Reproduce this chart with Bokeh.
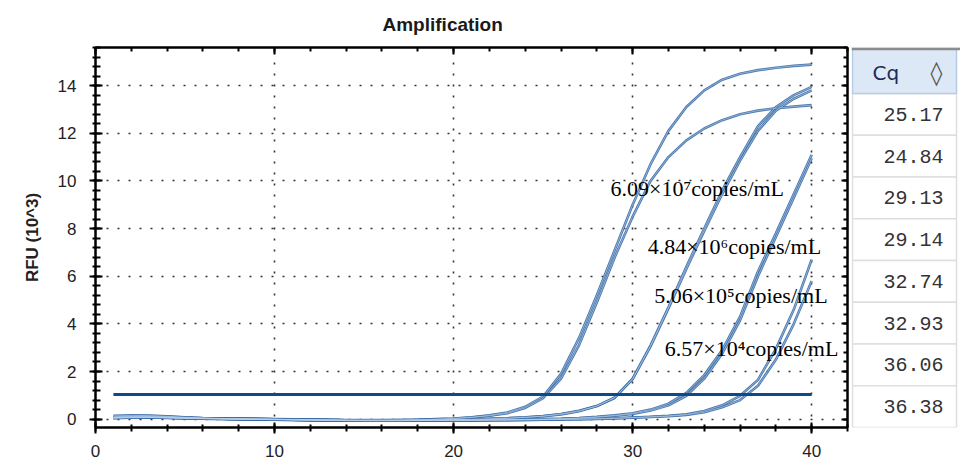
from bokeh.plotting import figure
from bokeh.models import LinearAxis, SingleIntervalTicker, Range1d, CustomJSTickFormatter
from bokeh.layouts import row
from bokeh.embed import file_html
from bokeh.resources import INLINE
from bokeh.core.properties import value

# ---------------- data ----------------
cycles = list(range(1, 41))

rfu_a1 = [0.14, 0.16, 0.15, 0.12, 0.08, 0.05, 0.03, 0.02, 0.01, 0.0,
          -0.01, -0.02, -0.03, -0.04, -0.04, -0.04, -0.04, -0.03, 0.0, 0.03,
          0.08, 0.16, 0.28, 0.52, 0.95, 1.9, 3.4, 5.2, 7.1, 9.0,
          10.7, 12.1, 13.1, 13.8, 14.25, 14.5, 14.65, 14.75, 14.83, 14.88]
rfu_a2 = [0.10, 0.13, 0.13, 0.11, 0.07, 0.04, 0.02, 0.01, 0.0, -0.01,
          -0.02, -0.03, -0.04, -0.05, -0.05, -0.05, -0.04, -0.03, -0.01, 0.02,
          0.07, 0.14, 0.25, 0.47, 0.88, 1.7, 3.1, 4.9, 6.8, 8.5,
          10.0, 11.0, 11.7, 12.2, 12.55, 12.8, 12.95, 13.05, 13.12, 13.18]
rfu_b1 = [0.08, 0.10, 0.10, 0.08, 0.06, 0.04, 0.02, 0.01, 0.0, -0.01,
          -0.02, -0.03, -0.04, -0.05, -0.05, -0.05, -0.05, -0.04, -0.03, -0.02,
          -0.01, 0.01, 0.04, 0.08, 0.13, 0.22, 0.35, 0.55, 0.9, 1.7,
          3.1, 4.7, 6.4, 8.0, 9.6, 11.0, 12.3, 13.1, 13.6, 13.95]
rfu_b2 = [0.07, 0.09, 0.09, 0.07, 0.05, 0.03, 0.02, 0.01, 0.0, -0.01,
          -0.02, -0.03, -0.04, -0.05, -0.05, -0.05, -0.05, -0.04, -0.03, -0.02,
          -0.01, 0.01, 0.03, 0.07, 0.12, 0.2, 0.33, 0.55, 0.9, 1.68,
          3.05, 4.65, 6.3, 7.9, 9.45, 10.85, 12.1, 12.95, 13.45, 13.8]
rfu_c1 = [0.06, 0.09, 0.09, 0.07, 0.05, 0.03, 0.02, 0.01, 0.0, -0.01,
          -0.02, -0.03, -0.04, -0.05, -0.06, -0.06, -0.06, -0.05, -0.05, -0.04,
          -0.04, -0.03, -0.02, -0.01, 0.0, 0.02, 0.05, 0.1, 0.16, 0.25,
          0.4, 0.65, 1.1, 1.85, 2.9, 4.3, 6.2, 7.8, 9.45, 11.1]
rfu_c2 = [0.05, 0.08, 0.08, 0.06, 0.04, 0.03, 0.02, 0.01, 0.0, -0.01,
          -0.02, -0.03, -0.04, -0.05, -0.06, -0.06, -0.06, -0.05, -0.05, -0.04,
          -0.04, -0.03, -0.02, -0.01, 0.0, 0.01, 0.04, 0.08, 0.14, 0.22,
          0.36, 0.58, 0.98, 1.7, 2.75, 4.15, 6.0, 7.65, 9.3, 10.95]
rfu_d1 = [0.05, 0.07, 0.08, 0.06, 0.04, 0.02, 0.01, 0.0, -0.01, -0.02,
          -0.03, -0.04, -0.05, -0.06, -0.06, -0.06, -0.06, -0.06, -0.05, -0.05,
          -0.05, -0.04, -0.04, -0.03, -0.02, -0.01, 0.0, 0.02, 0.04, 0.07,
          0.1, 0.14, 0.2, 0.34, 0.58, 0.98, 1.65, 2.95, 4.6, 6.7]
rfu_d2 = [0.04, 0.06, 0.07, 0.05, 0.03, 0.02, 0.01, 0.0, -0.01, -0.02,
          -0.03, -0.04, -0.05, -0.06, -0.06, -0.06, -0.06, -0.06, -0.05, -0.05,
          -0.05, -0.04, -0.04, -0.03, -0.02, -0.01, 0.0, 0.01, 0.03, 0.06,
          0.09, 0.12, 0.18, 0.29, 0.5, 0.8, 1.4, 2.5, 4.0, 5.8]
curves = [rfu_a1, rfu_a2, rfu_b1, rfu_b2, rfu_c1, rfu_c2, rfu_d1, rfu_d2]

threshold = 1.04

cq_values = ["25.17", "24.84", "29.13", "29.14", "32.74", "32.93", "36.06", "36.38"]

label_texts = ["6.09\u00d710\u2077copies/mL", "4.84\u00d710\u2076copies/mL",
               "5.06\u00d710\u2075copies/mL", "6.57\u00d710\u2074copies/mL"]

title_text = "Amplification"
y_label = "RFU (10^3)"

# ---------------- main chart ----------------
p = figure(width=851, height=468, x_range=Range1d(0, 42), y_range=Range1d(-0.35, 15.6),
           output_backend="svg", toolbar_location=None,
           min_border_left=95, min_border_right=4, min_border_top=45, min_border_bottom=41)
p.background_fill_color = "white"
p.outline_line_color = "black"
p.outline_line_width = 2

p.title.text = title_text
p.title.align = "left"
p.title.offset = 287
p.title.standoff = 24
p.title.vertical_align = "middle"
p.title.text_font = "Liberation Sans"
p.title.text_font_size = "19px"
p.title.text_font_style = "bold"
p.title.text_color = "#1a1a1a"

xt = SingleIntervalTicker(interval=10, num_minor_ticks=5)
yt = SingleIntervalTicker(interval=2, num_minor_ticks=5)
p.xaxis.ticker = xt
p.yaxis.ticker = yt

for ax in (p.xaxis[0], p.yaxis[0]):
    ax.axis_line_width = 2
    ax.major_tick_line_width = 2
    ax.minor_tick_line_width = 2
    ax.major_label_text_font = "Liberation Sans"
    ax.major_label_text_font_size = "17px"
    ax.major_label_text_color = "#222222"

p.yaxis.major_tick_in = 7
p.yaxis.major_tick_out = 6
p.yaxis.minor_tick_in = 5
p.yaxis.minor_tick_out = 3
p.yaxis.major_label_standoff = 13
p.yaxis.axis_label = y_label
p.yaxis.axis_label_text_font = "Liberation Sans"
p.yaxis.axis_label_text_font_size = "17px"
p.yaxis.axis_label_text_font_style = "bold"
p.yaxis.axis_label_text_color = "#222222"
p.yaxis.axis_label_standoff = 13

p.xaxis.major_tick_in = 5
p.xaxis.major_tick_out = 6
p.xaxis.minor_tick_in = 3
p.xaxis.minor_tick_out = 4
p.xaxis.major_label_standoff = 11

top_ax = LinearAxis(ticker=SingleIntervalTicker(interval=10, num_minor_ticks=5),
                    formatter=CustomJSTickFormatter(code="return ''"), major_label_standoff=0,
                    major_tick_in=7, major_tick_out=0, minor_tick_in=4, minor_tick_out=0,
                    axis_line_width=2, major_tick_line_width=2, minor_tick_line_width=2)
p.add_layout(top_ax, "above")
right_ax = LinearAxis(ticker=SingleIntervalTicker(interval=2, num_minor_ticks=5),
                      formatter=CustomJSTickFormatter(code="return ''"), major_label_standoff=0,
                      major_tick_in=6, major_tick_out=0, minor_tick_in=4, minor_tick_out=0,
                      axis_line_width=2, major_tick_line_width=2, minor_tick_line_width=2)
p.add_layout(right_ax, "right")

p.xgrid.grid_line_color = "#333333"
p.ygrid.grid_line_color = "#333333"
p.xgrid.grid_line_width = 1.6
p.ygrid.grid_line_width = 1.6
p.xgrid.grid_line_dash = "2 9"
p.ygrid.grid_line_dash = "2 9"

for vals in curves:
    p.line(cycles, vals, line_color="#3a6ca6", line_width=2.6, line_alpha=0.9)
for vals in curves:
    p.line(cycles, vals, line_color="#b8cfe9", line_width=0.7, line_alpha=0.9)

p.segment(x0=[cycles[0]], x1=[cycles[-1]], y0=[threshold], y1=[threshold],
          line_color="#0d4a8c", line_width=3)

p.text(x=[28.77, 30.84, 31.2, 31.8], y=[9.67, 7.25, 5.17, 2.96], text=label_texts,
       text_font=value("Liberation Serif"), text_font_size="22px", text_color="black",
       text_align="left", text_baseline="middle")

# ---------------- Cq table ----------------
t = figure(width=109, height=468, x_range=Range1d(0, 109), y_range=Range1d(0, 9.1),
           output_backend="svg", toolbar_location=None,
           x_axis_location=None, y_axis_location=None,
           min_border_left=0, min_border_right=0, min_border_top=45, min_border_bottom=41)
t.grid.visible = False
t.outline_line_color = None

n = len(cq_values)
tops = [n - i for i in range(n)]
bottoms = [n - i - 1 for i in range(n)]
t.quad(left=1, right=105, top=tops, bottom=bottoms, fill_color="white",
       line_color="#dedede", line_width=1.5)
t.quad(left=[1], right=[105], top=[9.07], bottom=[n], fill_color="#dde8f6",
       line_color="#b6cbe5", line_width=1.5)
t.segment(x0=[0], x1=[109], y0=[9.07], y1=[9.07], line_color="#8c8c8c", line_width=3)

t.text(x=[92] * n, y=[b + 0.5 for b in bottoms], text=cq_values,
       text_font=value("Liberation Mono"), text_font_size="20px", text_color="#333333",
       text_align="right", text_baseline="middle")
t.text(x=[21], y=[8.5], text=["Cq"], text_font=value("DejaVu Sans"),
       text_font_size="20px", text_color="#1b2c57", text_align="left", text_baseline="middle")
t.text(x=[85], y=[8.5], text=["\u25ca"], text_font=value("DejaVu Sans"),
       text_font_size="24px", text_color="#555555", text_align="center", text_baseline="middle")

layout = row(p, t)
open("out.html", "w").write(file_html(layout, INLINE))
